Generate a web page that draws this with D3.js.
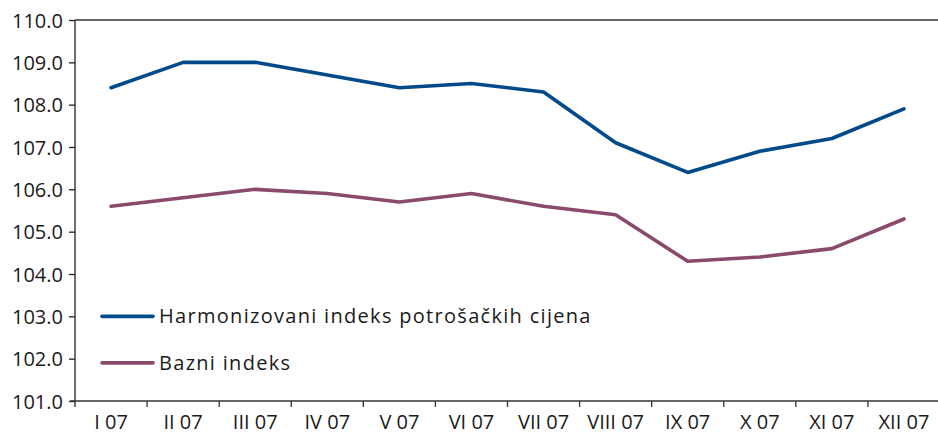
<!DOCTYPE html>
<html>
<head>
<meta charset="utf-8">
<script src="https://cdn.jsdelivr.net/npm/d3@7"></script>
<style>
  body { margin: 0; background: #fff; }
  #chart { width: 938px; height: 438px; }
  text { font-family: "Open Sans", "Noto Sans", sans-serif; fill: #1a1a1a; }
</style>
</head>
<body>
<div id="chart"></div>
<script>
const months = ["I 07", "II 07", "III 07", "IV 07", "V 07", "VI 07", "VII 07", "VIII 07", "IX 07", "X 07", "XI 07", "XII 07"]
const hicp = [108.4, 109.0, 109.0, 108.7, 108.4, 108.5, 108.3, 107.1, 106.4, 106.9, 107.2, 107.9]
const bazni = [105.6, 105.8, 106.0, 105.9, 105.7, 105.9, 105.6, 105.4, 104.3, 104.4, 104.6, 105.3]
const yTicks = [101, 102, 103, 104, 105, 106, 107, 108, 109, 110]
const seriesNames = ["Harmonizovani indeks potrošačkih cijena", "Bazni indeks"]
const seriesColors = ["#004a8a", "#8a4a6c"]

const margin = {top: 20, right: -2, bottom: 37, left: 75}
const clientWidth = 938
const clientHeight = 438
const width = clientWidth - margin.left - margin.right
const height = clientHeight - margin.top - margin.bottom

const svg = d3.select("#chart").append("svg")
    .attr("width", clientWidth)
    .attr("height", clientHeight)
    .append("g")
    .attr("transform", `translate(${margin.left}, ${margin.top})`)

const xScale = d3.scaleBand()
    .domain(months)
    .range([0, width])

const yScale = d3.scaleLinear()
    .domain([101, 110])
    .range([height, 0])

// top border line
svg.append("line")
    .attr("x1", 0).attr("x2", clientWidth - margin.left)
    .attr("y1", 0).attr("y2", 0)
    .attr("stroke", "#333").attr("stroke-width", 1.3)

const yAxisG = svg.append("g")
    .call(d3.axisLeft(yScale).tickValues(yTicks).tickSize(6).tickPadding(6).tickFormat(d3.format(".1f")))
yAxisG.select(".domain").attr("stroke", "#222").attr("stroke-width", 1.3)
    .attr("d", `M0,0V${height + 6}`)
yAxisG.selectAll(".tick line").attr("stroke", "#222").attr("stroke-width", 1.3)
yAxisG.selectAll(".tick text")
    .style("font-size", "20px")
    .style("font-family", "'Open Sans', 'Noto Sans', sans-serif")
    .attr("fill", "#222")
    .attr("dy", "0.36em")

const xAxisG = svg.append("g")
    .attr("transform", `translate(0, ${height})`)
    .call(d3.axisBottom(xScale).tickSize(0).tickPadding(14))
xAxisG.select(".domain").attr("stroke", "#333").attr("stroke-width", 1.3)
    .attr("d", `M-5,0H${clientWidth - margin.left}`)
xAxisG.selectAll(".tick text")
    .style("font-size", "20px")
    .style("font-family", "'Open Sans', 'Noto Sans', sans-serif")
    .attr("fill", "#222")

// ticks between categories
svg.append("g")
    .selectAll("line")
    .data(months.slice(1))
    .enter().append("line")
    .attr("x1", d => xScale(d))
    .attr("x2", d => xScale(d))
    .attr("y1", height)
    .attr("y2", height + 6)
    .attr("stroke", "#333")
    .attr("stroke-width", 1.3)

const line = d3.line()
    .x((d, i) => xScale(months[i]) + xScale.bandwidth() / 2)
    .y(d => yScale(d))

;[hicp, bazni].forEach((values, i) => {
    svg.append("path")
        .datum(values)
        .attr("fill", "none")
        .attr("stroke", seriesColors[i])
        .attr("stroke-width", 3.6)
        .attr("stroke-linejoin", "round")
        .attr("stroke-linecap", "round")
        .attr("d", line)
})

// legend
const legendY = [103, 101.9]
const legend = svg.append("g")
seriesNames.forEach((name, i) => {
    const y = yScale(legendY[i])
    legend.append("line")
        .attr("x1", 27).attr("x2", 78)
        .attr("y1", y).attr("y2", y)
        .attr("stroke", seriesColors[i])
        .attr("stroke-width", 3.6)
        .attr("stroke-linecap", "round")
    legend.append("text")
        .attr("x", 84)
        .attr("y", y)
        .attr("dy", "0.35em")
        .style("font-size", "20px")
        .style("letter-spacing", "1.3px")
        .attr("fill", "#222")
        .text(name)
})
</script>
</body>
</html>
